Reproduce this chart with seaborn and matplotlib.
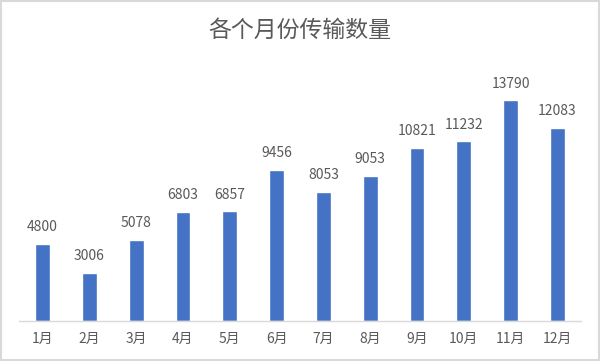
import matplotlib
matplotlib.use("Agg")
import matplotlib.pyplot as plt
import seaborn as sns
import pandas as pd
from matplotlib.patches import Rectangle

months = ["1月", "2月", "3月", "4月", "5月", "6月",
          "7月", "8月", "9月", "10月", "11月", "12月"]
counts = [4800, 3006, 5078, 6803, 6857, 9456,
          8053, 9053, 10821, 11232, 13790, 12083]

sns.set_theme(style="white")
plt.rcParams["font.family"] = ["Noto Sans CJK SC", "DejaVu Sans"]

df = pd.DataFrame({"month": months, "count": counts})

fig = plt.figure(figsize=(6, 3.61), dpi=100)
ax = fig.add_axes([0.032, 0.111, 0.936, 0.709])
sns.barplot(data=df, x="month", y="count", color="#4472C4", saturation=1,
            width=0.32, ax=ax)

for i, v in enumerate(counts):
    ax.annotate(str(v), (i, v), xytext=(0, 7), textcoords="offset points",
                ha="center", va="bottom", fontsize=10, color="#595959")

ax.set_ylim(0, 16000)
ax.set_xlim(-0.5, 11.5)
ax.set_yticks([])
ax.set_xlabel("")
ax.set_ylabel("")
ax.tick_params(axis="x", length=0, labelsize=10, colors="#595959", pad=8)
for s in ["top", "right", "left"]:
    ax.spines[s].set_visible(False)
ax.spines["bottom"].set_color("#d9d9d9")
ax.spines["bottom"].set_linewidth(1)

fig.text(0.5, 0.917, "各个月份传输数量", ha="center", va="center",
         fontsize=16.5, color="#595959")
fig.patches.append(Rectangle((0.002, 0.003), 0.996, 0.994, transform=fig.transFigure,
                             fill=False, edgecolor="#d9d9d9", linewidth=1.5))

fig.savefig("out.png", dpi=100)
